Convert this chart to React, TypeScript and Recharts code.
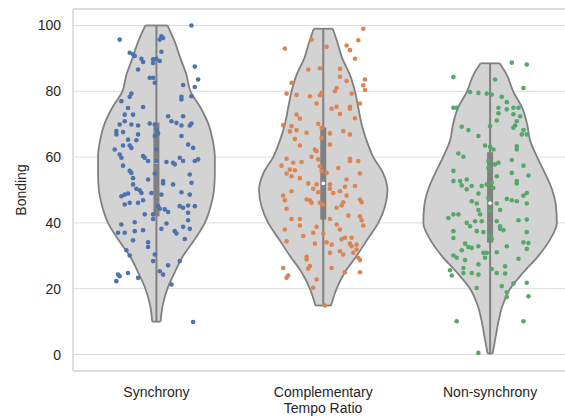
import React from "react";
import {
  ComposedChart,
  Area,
  Line,
  Scatter,
  XAxis,
  YAxis,
  CartesianGrid,
  ReferenceLine,
  Label,
} from "recharts";

const categories = ["Synchrony", "Complementary", "Non-synchrony"];
const pointColors = ["#4c72b0", "#dd8452", "#55a868"];
const yTicks = [0, 20, 40, 60, 80, 100];

// violin outline: [Bonding level, half width in category units]
const violinSync: [number, number][] = [
  [10, 0.025], [15, 0.038], [20, 0.066], [25, 0.11], [30, 0.16], [35, 0.23],
  [40, 0.29], [45, 0.325], [50, 0.345], [55, 0.35], [60, 0.35], [65, 0.338],
  [70, 0.312], [75, 0.265], [80, 0.204], [85, 0.18], [90, 0.144], [95, 0.11],
  [100, 0.066],
];
const violinComp: [number, number][] = [
  [14.9, 0.047], [20, 0.08], [25, 0.13], [30, 0.2], [35, 0.265], [40, 0.33],
  [45, 0.37], [50, 0.385], [55, 0.36], [60, 0.3], [65, 0.26], [70, 0.23],
  [75, 0.21], [80, 0.19], [85, 0.16], [90, 0.114], [95, 0.084], [99, 0.057],
];
const violinNon: [number, number][] = [
  [0.3, 0.015], [5, 0.032], [10, 0.05], [15, 0.075], [20, 0.12], [25, 0.2],
  [30, 0.29], [35, 0.36], [40, 0.4], [45, 0.395], [50, 0.372], [55, 0.33],
  [60, 0.282], [65, 0.24], [70, 0.222], [75, 0.192], [80, 0.138], [85, 0.1],
  [88.5, 0.057],
];

// inner box
const whiskerLow = [10, 15, 0.3];
const whiskerHigh = [100, 99, 88.5];
const q1s = [42, 41, 34];
const q3s = [70.5, 69, 61.5];
const medians = [58.5, 52, 46];

// strip points: [jitter in category units, Bonding]
const syncPoints: [number, number][] = [
  [0.21, 100], [-0.22, 95.7], [0.03, 96.7], [0.04, 96.2], [0.02, 95.7], [-0.16, 91.7],
  [-0.14, 91.2], [-0.13, 90.7], [-0.09, 89.9], [-0.08, 88.9], [-0.02, 89.7], [0, 89.9],
  [0.02, 89.2], [0.03, 92], [-0.02, 88.6], [-0.11, 86.6], [-0.04, 84.1], [-0.02, 84.1],
  [-0.01, 82.6], [0.23, 87.5], [0.25, 83.6], [0.23, 81.3], [0.16, 81.9], [0.15, 78.3],
  [0.15, 77.5], [0.21, 78.5], [-0.15, 79.3], [-0.16, 78.3], [-0.21, 77], [-0.08, 75.2],
  [-0.17, 74.9], [-0.19, 72.9], [-0.14, 72.9], [-0.19, 70.9], [-0.15, 69.9], [-0.11, 69.6],
  [-0.04, 70.2], [-0.01, 69.9], [-0.22, 69.9], [-0.24, 67.9], [-0.24, 66.9], [-0.2, 67.6],
  [0, 68.4], [0.01, 67.2], [-0.01, 66.4], [0.07, 72.4], [0.09, 70.9], [0.12, 70.4],
  [0.15, 69.6], [0.16, 72.4], [0.2, 69.6], [0.21, 70.2], [0.15, 66.4], [-0.17, 65.3],
  [-0.12, 65.1], [-0.2, 63.5], [-0.16, 63.5], [-0.15, 62.8], [-0.25, 62.3], [-0.22, 60.8],
  [-0.21, 59.8], [-0.2, 57.4], [-0.08, 60.3], [-0.07, 59.8], [-0.05, 58.8], [0, 58.8],
  [0.06, 58.5], [0.1, 58.3], [0.11, 57.8], [0.14, 59.8], [0.16, 58.8], [0.19, 63.8],
  [0.22, 62.8], [0.23, 58.8], [0.25, 59.3], [0.2, 54.7], [-0.15, 55.2], [-0.14, 53.6],
  [-0.01, 55], [0.21, 52.2], [-0.05, 53.2], [0.04, 52.7], [0.04, 52], [0.1, 51.7],
  [-0.14, 51.7], [-0.12, 50.4], [-0.1, 49.9], [-0.21, 48.1], [-0.19, 48.6], [-0.17, 48.9],
  [-0.09, 49.1], [-0.03, 49.1], [0.03, 48.6], [0.15, 49.3], [0.2, 48.6], [-0.19, 45.6],
  [-0.16, 46.1], [-0.11, 46.1], [-0.08, 46.9], [0.01, 45.1], [0.02, 44.3], [0.05, 44.1],
  [0.07, 43.3], [0.14, 45.1], [0.16, 44.6], [0.19, 45.3], [0.23, 45.1], [0.19, 43.1],
  [-0.02, 42.6], [-0.02, 41.2], [-0.07, 42.6], [0.19, 40.8], [-0.13, 40.2], [-0.21, 39.5],
  [0.06, 39.8], [0.03, 38.2], [0.16, 38.8], [0.2, 38.2], [0.11, 37.5], [0.12, 36.8],
  [-0.08, 37.8], [-0.13, 37.5], [-0.23, 37], [-0.19, 37], [0.17, 35.1], [-0.14, 34.7],
  [-0.05, 34.1], [-0.05, 32.7], [-0.18, 31.7], [-0.16, 30.1], [-0.01, 30.4], [-0.02, 28.4],
  [0.14, 28.4], [0.07, 27.1], [0.02, 25.3], [0.04, 24.3], [-0.17, 24.8], [-0.11, 23.3],
  [-0.23, 24.3], [-0.22, 23.8], [-0.24, 22.3], [0.09, 21.3], [0.22, 9.9], [-0.11, 66.9],
  [0, 62.3], [-0.16, 55.8],
];
const compPoints: [number, number][] = [
  [0.24, 99], [0.21, 95.5], [-0.07, 95.7], [-0.23, 93], [0.02, 93.5], [0.14, 93.9],
  [0.16, 92.5], [0.19, 89.9], [-0.09, 86.6], [-0.02, 87], [0.1, 86.8], [0.1, 84.4],
  [0.14, 83.1], [0.25, 83.6], [0.24, 81.8], [0.25, 80.4], [-0.19, 82.6], [-0.22, 79.3],
  [-0.16, 78.9], [-0.08, 78.5], [-0.02, 78.8], [-0.01, 79.5], [0.07, 80], [0.08, 81],
  [0.17, 79.3], [-0.04, 76.3], [0.05, 74.7], [0.08, 75.3], [0.16, 75.3], [0.16, 74.7],
  [0.22, 76.3], [0.1, 73.1], [0.19, 71.8], [-0.16, 72.9], [-0.14, 71.7], [-0.24, 69.7],
  [-0.19, 69.4], [-0.2, 67.8], [-0.16, 68.2], [-0.1, 67.4], [-0.03, 70.1], [-0.01, 68.9],
  [0.04, 67.2], [0.12, 67.9], [0.16, 66.9], [-0.01, 65.8], [-0.17, 65.5], [-0.14, 63.5],
  [0.04, 63.8], [-0.05, 62.3], [-0.04, 61.8], [-0.07, 60.1], [-0.03, 59.3], [0.16, 59.5],
  [0.16, 58.8], [0.21, 58.8], [-0.22, 59.5], [-0.18, 58.3], [-0.13, 58.5], [-0.25, 57.4],
  [-0.2, 56.2], [-0.17, 56], [-0.22, 55], [-0.19, 54.2], [-0.02, 57.2], [-0.01, 55.8],
  [0.02, 55.2], [0.09, 56.7], [0.22, 55], [-0.14, 53.6], [0.14, 53.2], [-0.09, 52],
  [-0.06, 50.4], [-0.04, 51.7], [-0.03, 49.3], [0.04, 51.7], [0.04, 50.4], [0.06, 49.1],
  [0.1, 49.6], [0.13, 51], [0.19, 51.2], [-0.19, 49.6], [-0.24, 48.3], [-0.23, 46.9],
  [-0.1, 47.1], [-0.08, 46.9], [-0.07, 46.1], [-0.02, 46.1], [0, 45.6], [0.12, 46.3],
  [0.14, 48.3], [0.22, 47.1], [0.23, 46.3], [-0.22, 44.3], [0.08, 44.6], [0.11, 45.3],
  [-0.19, 41.2], [-0.14, 41.2], [0.04, 41.2], [0.15, 42.2], [0.22, 42], [0.23, 40.8],
  [0.24, 39.2], [-0.14, 39.2], [-0.04, 38.8], [0.08, 39.5], [0.1, 38], [-0.23, 38],
  [-0.06, 37], [0, 36.8], [-0.12, 36], [0.11, 35], [0.13, 35.5], [0.17, 35.5],
  [-0.22, 34.4], [-0.05, 33.7], [0.02, 34.1], [0.05, 33.4], [0.16, 33.7], [0.17, 32.9],
  [0.2, 33.4], [0.2, 31.9], [0.04, 30.9], [0.1, 31.4], [0.12, 30.4], [0.18, 30.9],
  [0.21, 29.4], [0.22, 28.7], [-0.1, 29.7], [-0.1, 28.9], [-0.08, 26.9], [-0.09, 26.1],
  [0.05, 26.3], [0.13, 25], [0.22, 25], [-0.24, 26.3], [-0.22, 23.3], [-0.21, 24],
  [-0.04, 22.8], [-0.06, 20.3], [0.01, 14.9],
];
const nonPoints: [number, number][] = [
  [0.13, 88.7], [0.22, 88.1], [-0.22, 84.3], [0.03, 83.6], [0.2, 81], [-0.12, 79.8],
  [-0.07, 79.5], [-0.02, 79.3], [0.01, 79], [0.07, 78.3], [0.1, 76.7], [0.05, 75],
  [0.1, 74.5], [0.14, 75], [0.17, 75], [-0.22, 75], [-0.2, 75], [0.05, 73.3],
  [0.14, 73], [0.18, 72.4], [0.04, 71.1], [0.16, 70.9], [0.15, 69.6], [0.14, 68.9],
  [-0.17, 69.2], [-0.13, 68.2], [0, 69.4], [0.2, 68.2], [0.19, 66.9], [0.22, 66.9],
  [-0.07, 66.4], [-0.03, 63.5], [0, 63.1], [0.02, 62.3], [0.16, 63.3], [0.16, 62.3],
  [-0.19, 61.1], [-0.16, 60.1], [0.13, 59.1], [-0.01, 58.8], [0.03, 57.8], [0.05, 58.3],
  [0.2, 57.4], [-0.22, 55.8], [-0.01, 56.7], [0.04, 54.2], [0.23, 54.4], [-0.22, 52.7],
  [-0.18, 52.7], [-0.17, 51.4], [-0.14, 53.2], [-0.11, 51.2], [-0.14, 50.2], [-0.05, 51.2],
  [-0.02, 51.7], [0.01, 52.2], [0.02, 50.6], [0.16, 52.7], [0.16, 52], [0.13, 55.2],
  [-0.07, 48.9], [-0.01, 47.6], [0.22, 49.1], [0.2, 48.3], [0.1, 47.3], [0.13, 46.9],
  [0.16, 46.6], [-0.11, 46.6], [-0.08, 45.9], [0.04, 45.9], [0.22, 45.9], [-0.07, 43.9],
  [-0.06, 42.6], [0, 43.6], [0.06, 43.9], [-0.25, 41.5], [-0.22, 42.6], [-0.19, 42.6],
  [-0.09, 40.5], [-0.05, 40.5], [0.17, 40.8], [0.22, 41], [-0.14, 40], [-0.12, 39],
  [0.04, 40.5], [0.06, 39], [-0.22, 37.5], [-0.08, 37.5], [-0.04, 37.2], [0.22, 37.2],
  [-0.22, 35.4], [0, 36], [0.01, 35.1], [0.06, 38.2], [0.08, 37.8], [-0.15, 33.7],
  [-0.13, 32.7], [-0.11, 32.4], [-0.07, 32.9], [-0.17, 31.7], [-0.04, 30.9], [-0.02, 30.9],
  [0.04, 31.1], [0.1, 32.9], [0.2, 34.1], [0.23, 33.9], [0.22, 32.1], [-0.22, 30.1],
  [-0.2, 29.4], [-0.15, 28.7], [-0.03, 29.4], [0.17, 29.1], [-0.07, 27.4], [-0.16, 26.3],
  [-0.24, 25.6], [-0.23, 24], [-0.16, 24.8], [-0.11, 24.8], [-0.07, 24.3], [0.01, 26],
  [0.04, 24.8], [0.09, 26.8], [0.09, 24.6], [0.22, 21.8], [0.14, 21.6], [0.07, 20.8],
  [-0.08, 20.2], [0.1, 18.9], [0.1, 17.5], [0.23, 17.7], [-0.2, 10.1], [0.2, 10.1],
  [-0.07, 0.5],
];

const violins = [violinSync, violinComp, violinNon];
const strips = [syncPoints, compPoints, nonPoints];

const FONT = "'Liberation Sans', Arial, sans-serif";
const LINE_GRAY = "#808080";

const dot = (fill: string, r: number) => (props: any) =>
  <circle cx={props.cx} cy={props.cy} r={r} fill={fill} />;

export default function App() {
  return (
    <div style={{ position: "absolute", left: 0, top: 0, fontFamily: FONT }}>
      <ComposedChart
        layout="vertical"
        width={565}
        height={419}
        margin={{ top: 9, right: 0, bottom: 4, left: 8 }}
      >
        <CartesianGrid vertical={false} stroke="#dcdcdc" strokeWidth={1} />
        <XAxis
          type="number"
          dataKey="x"
          domain={[-0.5, 2.449]}
          allowDataOverflow
          ticks={[0, 1, 2]}
          interval={0}
          tickFormatter={(v) => categories[v] ?? ""}
          tickLine={false}
          tickMargin={10}
          axisLine={{ stroke: "#cccccc", strokeWidth: 1.2 }}
          tick={{ fontSize: 14, fill: "#262626", fontFamily: FONT }}
          height={44}
        >
          <Label
            value="Tempo Ratio"
            position="insideBottom"
            offset={2}
            dx={4}
            style={{ fontSize: 14, fill: "#262626", fontFamily: FONT }}
          />
        </XAxis>
        <YAxis
          type="number"
          dataKey="y"
          domain={[-5, 105]}
          reversed
          allowDataOverflow
          ticks={yTicks}
          interval={0}
          tickLine={false}
          tickMargin={6}
          axisLine={{ stroke: "#cccccc", strokeWidth: 1.2 }}
          tick={{ fontSize: 14, fill: "#262626", fontFamily: FONT }}
          width={65}
        >
          <Label
            value="Bonding"
            angle={-90}
            position="insideLeft"
            offset={13}
            style={{ fontSize: 14, fill: "#262626", fontFamily: FONT, textAnchor: "middle" }}
          />
        </YAxis>
        <ReferenceLine y={105} stroke="#cccccc" strokeWidth={1.2} />

        {violins.map((v, i) => (
          <Area
            key={`violin-${i}`}
            data={v.map(([y, w]) => ({ y, range: [i - w, i + w] }))}
            dataKey="range"
            type="monotone"
            fill="#d3d3d3"
            fillOpacity={1}
            stroke={LINE_GRAY}
            strokeWidth={1.8}
            isAnimationActive={false}
          />
        ))}
        {violins.map((v, i) => {
          const [yb, wb] = v[0];
          const [yt, wt] = v[v.length - 1];
          return [
            <Line
              key={`cap-b-${i}`}
              data={[{ y: yb, x: i - wb }, { y: yb, x: i + wb }]}
              dataKey="x"
              stroke={LINE_GRAY}
              strokeWidth={1.8}
              dot={false}
              isAnimationActive={false}
            />,
            <Line
              key={`cap-t-${i}`}
              data={[{ y: yt, x: i - wt }, { y: yt, x: i + wt }]}
              dataKey="x"
              stroke={LINE_GRAY}
              strokeWidth={1.8}
              dot={false}
              isAnimationActive={false}
            />,
          ];
        })}
        {categories.map((_, i) => (
          <Line
            key={`whisker-${i}`}
            data={[{ y: whiskerLow[i], x: i }, { y: whiskerHigh[i], x: i }]}
            dataKey="x"
            stroke={LINE_GRAY}
            strokeWidth={2}
            dot={false}
            isAnimationActive={false}
          />
        ))}
        {categories.map((_, i) => (
          <Line
            key={`box-${i}`}
            data={[{ y: q1s[i], x: i }, { y: q3s[i], x: i }]}
            dataKey="x"
            stroke={LINE_GRAY}
            strokeWidth={6}
            strokeLinecap="butt"
            dot={false}
            isAnimationActive={false}
          />
        ))}
        <Scatter
          data={medians.map((m, i) => ({ x: i, y: m }))}
          shape={dot("#ffffff", 1.8)}
          isAnimationActive={false}
        />
        {strips.map((pts, i) => (
          <Scatter
            key={`strip-${i}`}
            data={pts.map(([j, v]) => ({ x: i + j, y: v }))}
            shape={dot(pointColors[i], 2.3)}
            isAnimationActive={false}
          />
        ))}
      </ComposedChart>
    </div>
  );
}
